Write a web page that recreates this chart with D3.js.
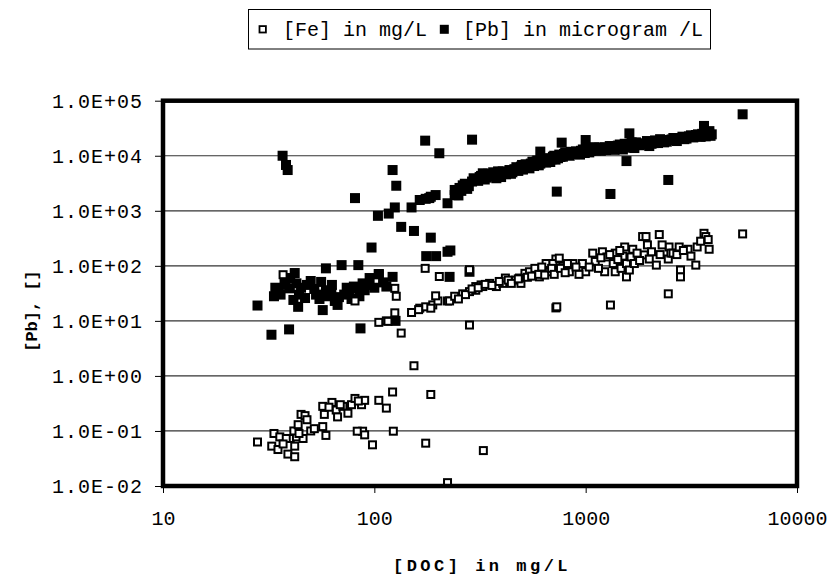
<!DOCTYPE html>
<html>
<head>
<meta charset="utf-8">
<script src="https://cdn.jsdelivr.net/npm/d3@7"></script>
<style>
  html, body { margin: 0; padding: 0; background: #fff; }
  svg { display: block; }
</style>
</head>
<body>
<svg id="chart" width="834" height="579"></svg>
<script>
// ---- Data ----
const xTickValues = [10, 100, 1000, 10000];
const xTickLabels = ["10", "100", "1000", "10000"];
const yTickValues = [1e-2, 1e-1, 1e0, 1e1, 1e2, 1e3, 1e4, 1e5];
const yTickLabels = ["1.0E-02", "1.0E-01", "1.0E+00", "1.0E+01", "1.0E+02", "1.0E+03", "1.0E+04", "1.0E+05"];
const seriesNames = ["[Fe] in mg/L", "[Pb] in microgram /L"];
const xTitle = "[DOC] in mg/L";
const yTitle = "[Pb], []";

// [DOC, Fe] pairs
const fePoints = [
  [28,0.063],[32.7,0.053],[35,0.046],[39,0.038],[42,0.034],[42,0.053],[40,0.073],[42.8,0.078],
  [46,0.073],[50,0.1],[33.5,0.09],[35.7,0.078],[38.3,0.073],[41.6,0.1],[43.6,0.13],[45,0.2],
  [47,0.19],[57,0.12],[59,0.083],[57,0.28],[58,0.2],[63,0.33],[66,0.24],[67,0.18],[71,0.28],
  [75,0.21],[78,0.3],[81,0.39],[87,0.3],[90,0.36],[105,0.36],[114,0.26],[122,0.51],[88,0.099],
  [90,0.085],[83,0.099],[98,0.056],[123,0.099],[175,0.06],[222,0.0115],[328,0.044],[154,1.53],
  [185,0.46],[37,0.058],[44,0.09],[48,0.16],[52,0.11],[61,0.27],[69,0.3],[84,0.35],
  [37,69],[81,23],[125,39],[127,28],[125,14],[105,9.4],[114,10],[134,6.0],[150,14.2],[164,17],
  [175,18],[189,19.5],[200,23],[195,28.5],[174,90],[203,64],[222,23],[116,9.8],[162,16],[185,17],
  [227,23],[240,28],[262,31],[282,34],[282,85],[282,8.4],[302,42],[320,45],[351,48],[378,42],
  [405,48],[417,60],[467,55],[494,48],[516,73],[563,73],[604,63],[650,84],[665,110],[723,133],
  [723,17.2],[326,42],[302,36],[486,60],[542,78],[590,84],[627,78],[673,78],[650,110],[700,110],
  [750,138],[780,98],[837,78],[870,110],[965,110],[1000,78],[1080,170],[1110,120],[1200,180],
  [1230,78],[1260,145],[1350,110],[1380,170],[1380,78],[1470,90],[1500,150],[1530,220],[1560,110],
  [1560,63],[1610,84],[1640,145],[1670,200],[1860,340],[1890,158],[1930,340],[1960,240],[2000,133],
  [2160,103],[2230,370],[2460,133],[2480,220],[2530,170],[2590,170],[2770,220],[2810,84],[2810,63],
  [3050,200],[3320,103],[3370,220],[3630,390],[3700,340],[3840,200],[5530,380],[730,18],[1310,19.4],
  [2460,31],
  [250,25],[270,30],[290,38],[310,40],[335,46],[360,44],[390,52],[430,55],[445,48],[480,58],
  [530,62],[555,65],[575,90],[600,70],[620,95],[640,68],[690,90],[710,70],[760,90],[800,75],
  [820,110],[900,95],[930,70],[1040,95],[1150,90],[1180,140],[1300,160],[1420,130],[1450,190],
  [1700,110],[1750,170],[1800,125],[2050,180],[2250,160],[2300,240],[2700,160],[2900,190],
  [3150,150],[3500,280],[3800,300]
];

// [DOC, Pb] pairs
const pbPoints = [
  [28,19],[32.6,5.6],[39.5,7],[33.5,28],[35,36],[37.6,51],[39.8,39],[41.4,24],[43.6,18],[42,74],
  [42.8,48],[47,26],[50,53],[56,51],[57,15.7],[59,36],[59,90],[62.6,32],[65,23],[67,19.5],[70,103],
  [76,34],[82,39],[84,103],[88,48],[90,36],[86,7.3],[105,70],[114,42],[122,63],[126,10],[97,215],
  [36,30],[38,45],[45,40],[53,30],[61,28],[72,30],[80,42],[85,28],
  [34,40],[40,60],[44,30],[48,45],[52,38],[55,25],[63,45],[68,27],[74,40],[78,25],[92,45],[95,60],
  [100,40],[110,50],
  [36.8,10000],[38.2,6800],[38.9,5500],[81,1700],
  [122,5500],[127,2850],[174,18800],[203,11100],[290,19600],[104,810],[117,890],[125,1150],[134,510],
  [154,430],[185,325],[150,1150],[164,1570],[175,1650],[182,1700],[195,1930],[185,1800],[222,1370],
  [176,150],[196,150],[222,180],[229,190],[227,63],[282,78],[105,71],
  [240,1930],[253,2600],[262,2900],[240,2390],[250,1900],[275,2500],[290,3400],[302,3630],[315,4100],
  [326,4800],[340,4000],[351,4500],[365,5000],[378,3900],[391,4500],[405,5200],[420,4600],[436,5500],
  [450,5000],[470,6200],[494,6350],[505,5600],[520,7000],[542,5900],[560,7800],[583,7800],[600,6700],
  [617,7800],[640,9000],[665,8900],[680,7700],[700,9600],[720,8500],[750,10500],[780,9600],[800,11500],
  [840,10000],[870,11100],[900,12000],[940,10500],[970,13000],[1000,12700],[1040,11500],[1080,13500],
  [1120,12500],[1160,14000],[1200,13600],[1250,12700],[1300,15000],[1350,13500],[1390,14600],
  [1450,16000],[1500,13000],[1550,15700],[1560,8000],[1610,15700],[1650,17500],[1700,13800],
  [1760,16500],[1860,16800],[1950,18500],[2000,15000],[2100,17000],[2160,18000],[2250,20000],
  [2350,17500],[2480,19300],[2600,21000],[2700,18500],[2870,22200],[3000,20500],[3150,23500],
  [3320,23800],[3500,22000],[3630,30000],[3750,27000],[3840,25500],[3900,23000],[3630,34800],
  [245,2100],[258,2300],[268,3100],[280,2800],[295,3900],[310,3500],[320,4300],[333,3700],[345,4700],
  [358,4200],[372,4600],[385,5200],[398,4100],[412,4900],[428,5100],[443,4700],[460,5700],[480,5300],
  [500,6800],[512,6000],[530,6500],[550,7200],[570,6500],[590,8200],[610,7200],[630,8000],[650,7500],
  [690,8600],[710,10000],[740,9000],[760,9500],[790,10800],[820,10500],[850,11800],[890,10700],
  [920,11500],[950,12300],[990,11200],[1020,13400],[1060,12200],[1100,14300],[1140,13000],
  [1180,12300],[1230,14300],[1280,13200],[1330,14800],[1370,12800],[1420,15300],[1480,14200],
  [1530,16500],[1590,14000],[1630,16500],[1680,15000],[1730,17500],[1800,15500],[1900,16000],
  [1980,17800],[2050,16500],[2130,19000],[2200,17000],[2300,18800],[2420,18000],[2550,19800],
  [2650,20000],[2780,21000],[2930,20000],[3080,22500],[3230,21500],[3400,24500],[3560,25000],
  [3700,22500],[3850,28000],[3950,24500],
  [5530,56600],[730,2230],[1310,2020],[2460,3630],[770,17300],[1000,19300],[1610,25500],[610,11900]
];

// ---- Chart ----
const svg = d3.select("#chart");
const L = 163, R = 797, T = 100.7, B = 486;
const monoFont = '"Liberation Mono", "Courier New", monospace';

const x = d3.scaleLog().domain([10, 10000]).range([L, R]);
const y = d3.scaleLog().domain([1e-2, 1e5]).range([B, T]);

// gridlines
svg.append("g")
  .selectAll("line")
  .data(yTickValues.slice(1, -1))
  .join("line")
  .attr("x1", L).attr("x2", R)
  .attr("y1", d => y(d)).attr("y2", d => y(d))
  .attr("stroke", "#333").attr("stroke-width", 1.2);

// axes
const yAxis = d3.axisLeft(y)
  .tickValues(yTickValues)
  .tickFormat((d, i) => yTickLabels[i])
  .tickSize(8).tickPadding(12);
const gy = svg.append("g").attr("transform", `translate(${L},0)`).call(yAxis);
gy.select(".domain").remove();
gy.selectAll(".tick line").attr("stroke", "#000").attr("stroke-width", 1);
gy.selectAll(".tick text")
  .style("font-family", monoFont)
  .style("font-size", "20px")
  .style("letter-spacing", "1px")
  .attr("fill", "#000");

const xAxis = d3.axisBottom(x)
  .tickValues(xTickValues)
  .tickFormat((d, i) => xTickLabels[i])
  .tickSize(7).tickPadding(18);
const gx = svg.append("g").attr("transform", `translate(0,${B})`).call(xAxis);
gx.select(".domain").remove();
gx.selectAll(".tick line").attr("stroke", "#000").attr("stroke-width", 1);
gx.selectAll(".tick text")
  .style("font-family", monoFont)
  .style("font-size", "20px")
  .attr("fill", "#000");

// points: Pb (filled), then Fe (open) on top
const pbSize = 10;
svg.append("g")
  .selectAll("rect")
  .data(pbPoints)
  .join("rect")
  .attr("x", d => x(d[0]) - pbSize / 2)
  .attr("y", d => y(d[1]) - pbSize / 2)
  .attr("width", pbSize).attr("height", pbSize)
  .attr("fill", "#000");

const feSize = 7;
svg.append("g")
  .selectAll("rect")
  .data(fePoints)
  .join("rect")
  .attr("x", d => x(d[0]) - feSize / 2)
  .attr("y", d => y(d[1]) - feSize / 2)
  .attr("width", feSize).attr("height", feSize)
  .attr("fill", "#fff")
  .attr("stroke", "#000").attr("stroke-width", 2);

// plot border
svg.append("rect")
  .attr("x", L).attr("y", T)
  .attr("width", R - L).attr("height", B - T)
  .attr("fill", "none").attr("stroke", "#000").attr("stroke-width", 4.5);

// axis titles
svg.append("text")
  .attr("x", 482).attr("y", 571)
  .attr("text-anchor", "middle")
  .style("font-family", monoFont)
  .style("font-weight", "bold")
  .style("font-size", "17px")
  .style("letter-spacing", "3.5px")
  .text(xTitle);

svg.append("text")
  .attr("transform", "translate(37,311) rotate(-90)")
  .attr("text-anchor", "middle")
  .style("font-family", monoFont)
  .style("font-weight", "bold")
  .style("font-size", "17px")
  .text(yTitle);

// legend
const lg = svg.append("g");
lg.append("rect")
  .attr("x", 248.5).attr("y", 9.5)
  .attr("width", 462).attr("height", 39.5)
  .attr("fill", "#fff").attr("stroke", "#000").attr("stroke-width", 1);

const legendItems = [
  { name: seriesNames[0], mx: 262.7, tx: 283, filled: false },
  { name: seriesNames[1], mx: 444.3, tx: 463, filled: true }
];
legendItems.forEach(it => {
  if (it.filled) {
    lg.append("rect").attr("x", it.mx - 4.5).attr("y", 29.3 - 4.5)
      .attr("width", 9).attr("height", 9).attr("fill", "#000");
  } else {
    lg.append("rect").attr("x", it.mx - 3.2).attr("y", 29.3 - 3.2)
      .attr("width", 6.4).attr("height", 6.4)
      .attr("fill", "#fff").attr("stroke", "#000").attr("stroke-width", 1.8);
  }
  lg.append("text")
    .attr("x", it.tx).attr("y", 36)
    .style("font-family", monoFont)
    .style("font-size", "20px")
    .text(it.name);
});
</script>
</body>
</html>
